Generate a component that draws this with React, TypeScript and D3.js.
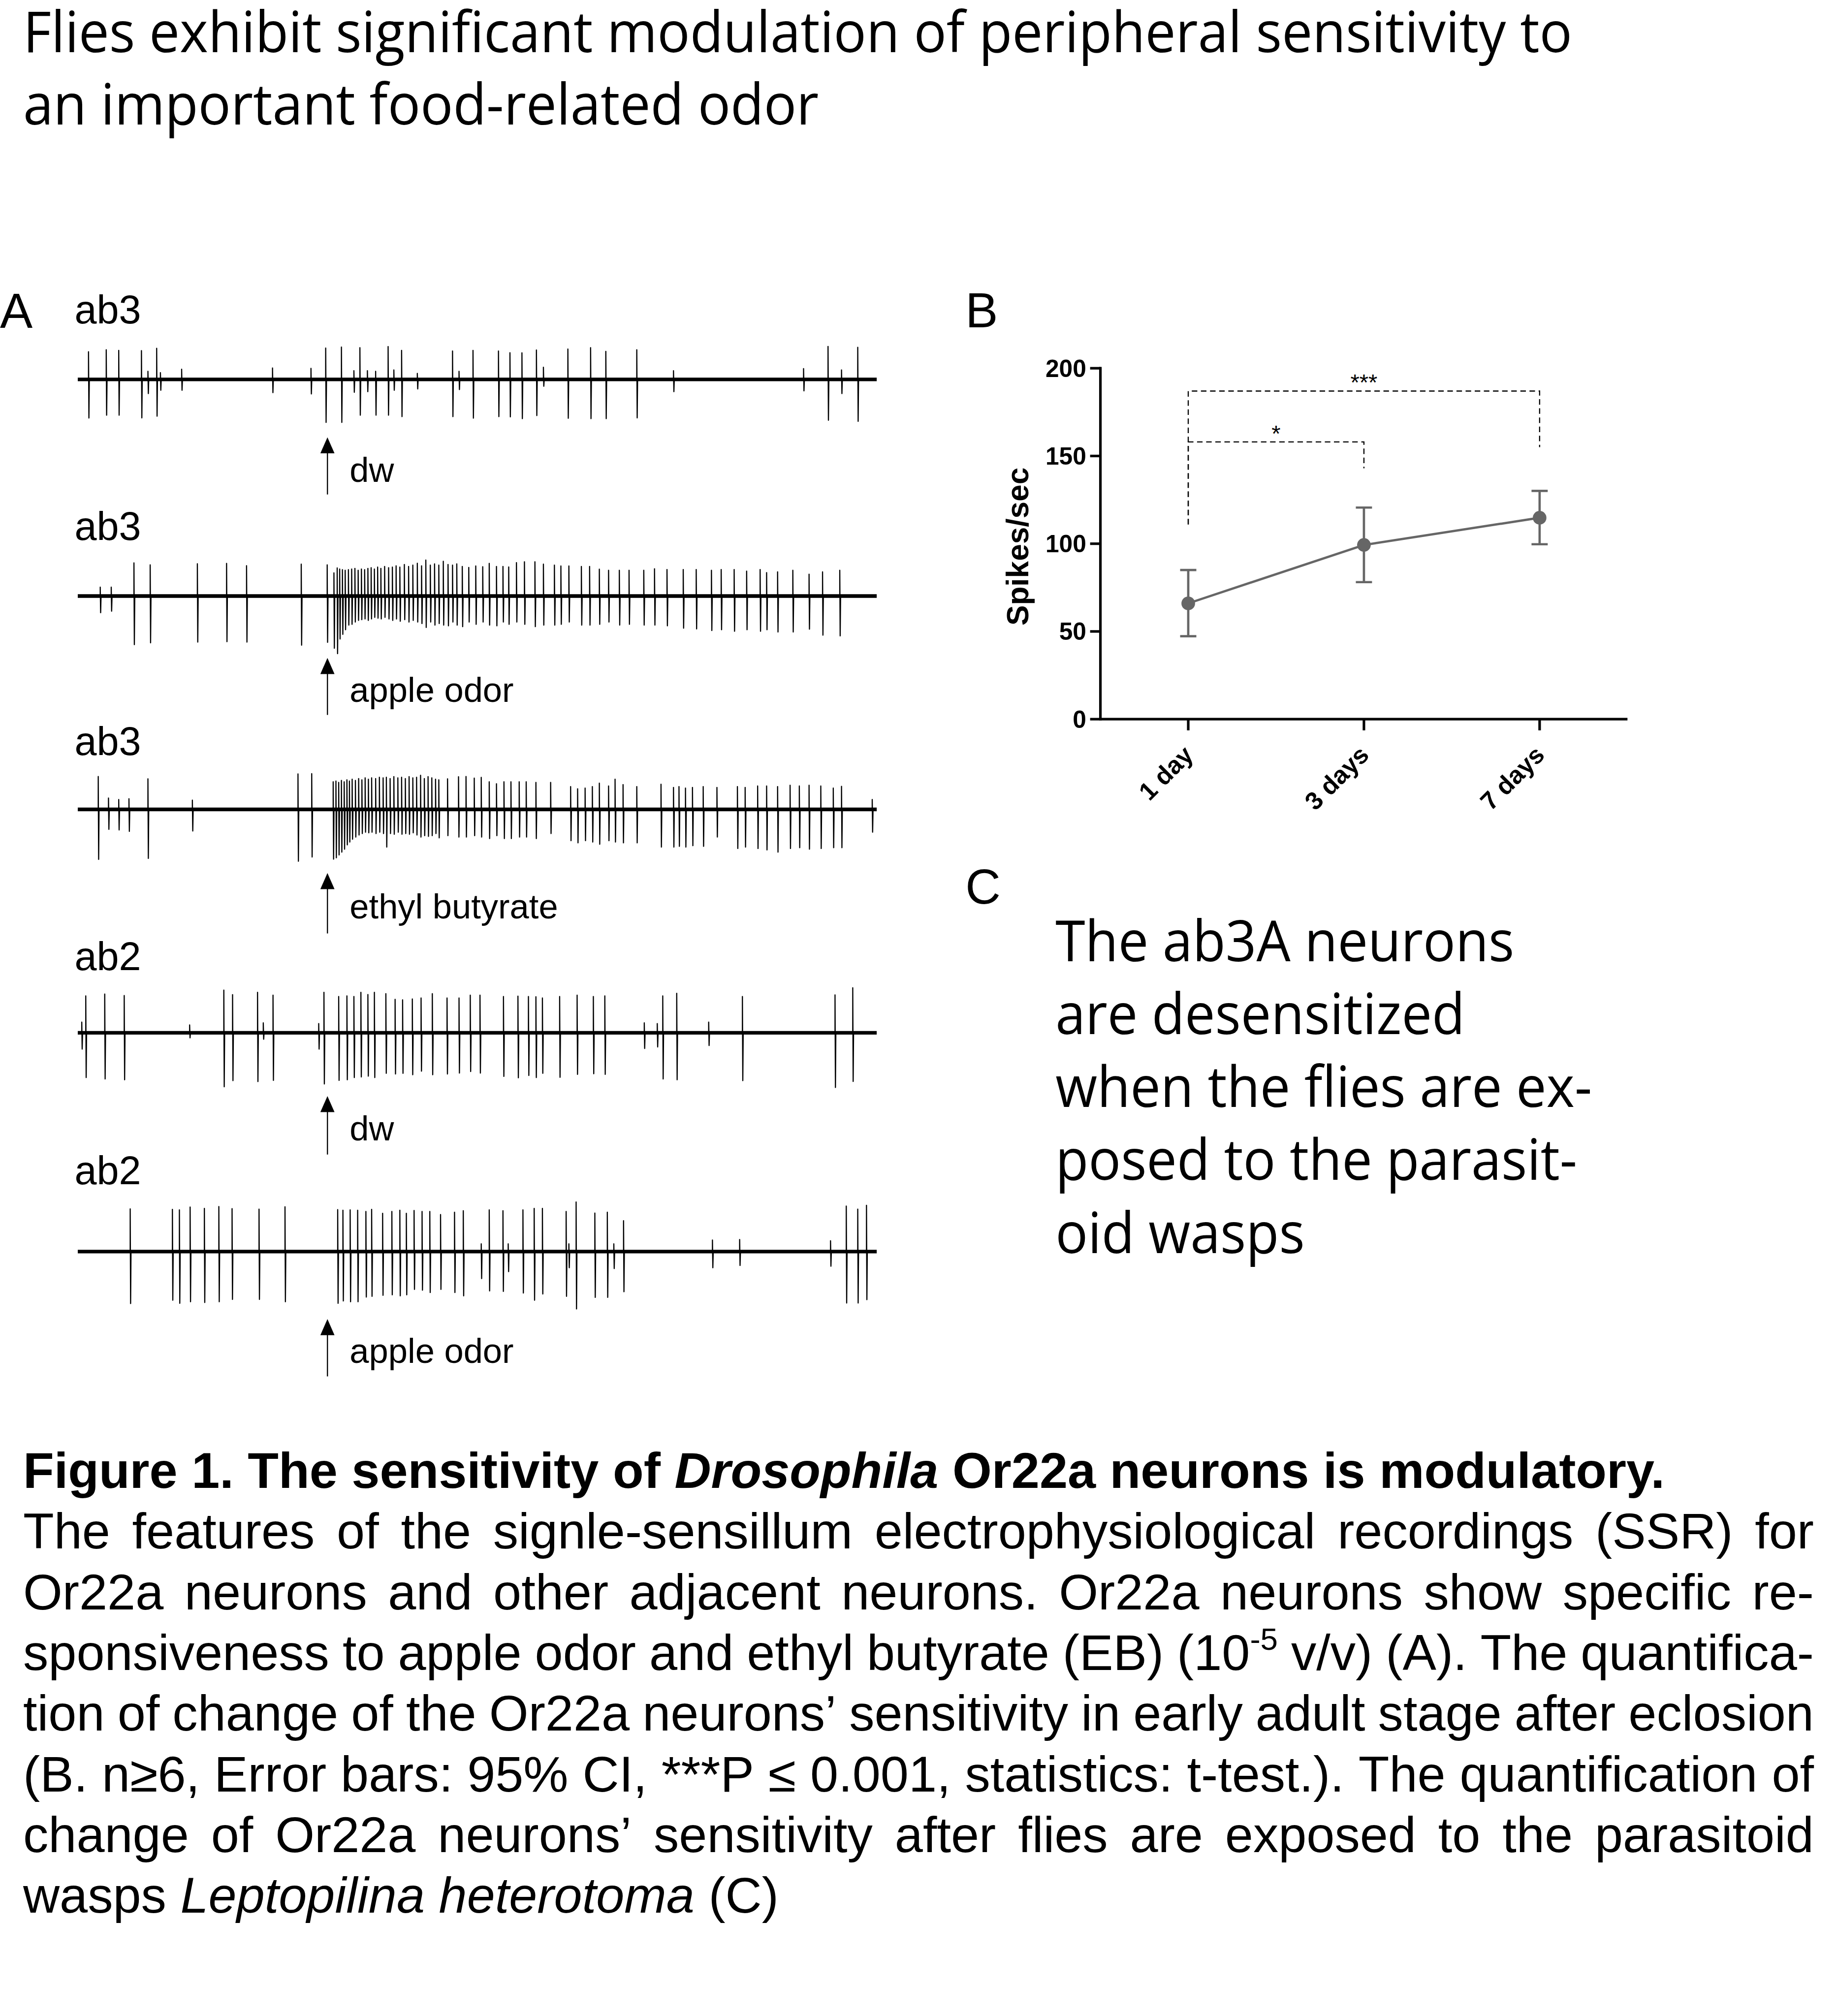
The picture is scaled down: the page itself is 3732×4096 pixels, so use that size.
import React from "react";
import * as d3 from "d3";

type Spike = [number, number, number]; // [time ms, upward µV, downward µV]

// ---------------- Panel A data ----------------
const TRACE_START_MS = 0;
const TRACE_END_MS = 3200;
const STIMULUS_MS = 1000;

const sensillumLabels = ["ab3", "ab3", "ab3", "ab2", "ab2"];
const stimulusLabels = ["dw", "apple odor", "ethyl butyrate", "dw", "apple odor"];

const spikesAb3Dw: Spike[] = [
  [43, 215, 300], [114, 231, 278], [164, 226, 278], [255, 224, 299], [281, 63, 110], [316, 242, 286],
  [331, 53, 84], [416, 79, 84], [780, 89, 103], [934, 86, 113], [993, 244, 334], [1056, 252, 334],
  [1106, 68, 100], [1130, 247, 278], [1160, 68, 95], [1193, 63, 278], [1243, 256, 278], [1266, 74, 84],
  [1297, 226, 289], [1360, 47, 74], [1501, 221, 289], [1527, 63, 79], [1583, 226, 301], [1685, 221, 289],
  [1731, 208, 291], [1779, 207, 305], [1837, 229, 281], [1865, 95, 53], [1963, 236, 302], [2054, 247, 305],
  [2115, 218, 305], [2239, 231, 299], [2386, 68, 95], [2907, 84, 89], [3005, 257, 317], [3059, 74, 110],
  [3124, 250, 326],
];

const spikesAb3Apple: Spike[] = [
  [90, 69, 130], [134, 69, 118], [225, 258, 378], [290, 242, 364], [479, 251, 358], [596, 254, 355],
  [676, 236, 358], [895, 248, 382], [999, 242, 360],
  [1026, 180, 406], [1039, 218, 448], [1049, 210, 334], [1060, 205, 298], [1071, 200, 262], [1084, 205, 226],
  [1097, 210, 220], [1110, 215, 202], [1123, 200, 190], [1136, 210, 184], [1149, 205, 178], [1162, 215, 190],
  [1175, 220, 178], [1188, 210, 166], [1201, 225, 172], [1214, 215, 178], [1229, 230, 166], [1245, 220, 178],
  [1260, 225, 190], [1275, 235, 178], [1290, 225, 196], [1308, 245, 184], [1325, 230, 202], [1342, 240, 190],
  [1360, 255, 202], [1377, 235, 214], [1394, 280, 244], [1412, 240, 202], [1429, 250, 226], [1446, 240, 214],
  [1464, 270, 226], [1483, 245, 232], [1501, 240, 202], [1518, 250, 226],
  [1540, 230, 238], [1566, 222, 202], [1594, 234, 220], [1622, 228, 202], [1648, 254, 226], [1677, 230, 232],
  [1703, 230, 202], [1726, 226, 220], [1757, 260, 202], [1789, 266, 220], [1831, 266, 238], [1865, 248, 226],
  [1909, 240, 226], [1935, 234, 220], [1967, 234, 202], [2017, 230, 226], [2050, 230, 226], [2089, 209, 220],
  [2126, 200, 202], [2169, 200, 226], [2208, 200, 220], [2267, 200, 226], [2310, 212, 226], [2360, 206, 232],
  [2425, 206, 250], [2477, 206, 256], [2538, 200, 268], [2577, 206, 262], [2629, 206, 274], [2679, 194, 262],
  [2733, 206, 274], [2759, 182, 262], [2803, 188, 280], [2864, 200, 280], [2929, 170, 258], [2983, 188, 304],
  [3052, 200, 310],
];

const spikesAb3EB: Spike[] = [
  [82, 256, 389], [123, 88, 155], [164, 77, 160], [205, 83, 171], [281, 238, 381], [459, 72, 168],
  [882, 276, 403], [937, 278, 370],
  [1023, 215, 387], [1034, 220, 376], [1045, 210, 354], [1056, 225, 332], [1067, 215, 309], [1078, 230, 276],
  [1088, 220, 254], [1099, 235, 232], [1112, 225, 215], [1125, 240, 199], [1138, 230, 188], [1151, 245, 177],
  [1164, 235, 182], [1177, 245, 177], [1193, 240, 188], [1208, 250, 177], [1223, 245, 188], [1236, 250, 293],
  [1251, 240, 188], [1266, 255, 193], [1282, 245, 177], [1297, 250, 193], [1312, 240, 188], [1327, 255, 193],
  [1342, 245, 182], [1357, 250, 199], [1373, 265, 215], [1388, 240, 204], [1403, 255, 210], [1418, 245, 204],
  [1433, 235, 188], [1446, 230, 221],
  [1481, 238, 204], [1525, 254, 215], [1555, 256, 215], [1588, 243, 204], [1616, 249, 215], [1648, 215, 227],
  [1677, 199, 204], [1707, 215, 227], [1735, 215, 227], [1768, 215, 215], [1796, 215, 215], [1835, 210, 227],
  [1894, 210, 188], [1974, 177, 243], [2002, 160, 260], [2032, 166, 243], [2061, 177, 254], [2089, 204, 271],
  [2126, 182, 243], [2152, 235, 254], [2184, 193, 260], [2239, 177, 260], [2336, 196, 293], [2386, 171, 293],
  [2408, 177, 287], [2434, 166, 293], [2462, 171, 282], [2505, 177, 287], [2560, 171, 215], [2642, 177, 304],
  [2673, 171, 293], [2723, 182, 304], [2759, 182, 315], [2803, 177, 332], [2853, 188, 304], [2890, 182, 298],
  [2929, 188, 309], [2976, 182, 304], [3026, 166, 298], [3059, 179, 298], [3182, 77, 177],
];

const spikesAb2Dw: Spike[] = [
  [16, 83, 127], [32, 287, 348], [108, 301, 359], [186, 290, 365], [448, 61, 39], [585, 332, 420],
  [620, 297, 372], [720, 315, 379], [743, 77, 50], [782, 293, 370], [965, 72, 127], [986, 315, 398],
  [1045, 282, 370], [1078, 287, 365], [1106, 282, 348], [1134, 315, 343], [1162, 298, 337], [1188, 315, 348],
  [1234, 304, 315], [1271, 260, 320], [1301, 256, 315], [1340, 263, 326], [1375, 271, 298], [1420, 304, 326],
  [1479, 271, 320], [1527, 271, 313], [1572, 293, 301], [1611, 293, 313], [1705, 282, 339], [1763, 285, 350],
  [1805, 282, 332], [1835, 280, 348], [1861, 271, 315], [1930, 282, 346], [2000, 293, 323], [2065, 282, 318],
  [2111, 287, 323], [2269, 77, 122], [2321, 72, 110], [2343, 287, 359], [2399, 307, 365], [2527, 83, 99],
  [2662, 282, 372], [3033, 295, 425], [3104, 350, 378],
];

const spikesAb2Apple: Spike[] = [
  [210, 332, 404], [379, 328, 378], [407, 324, 402], [450, 346, 390], [507, 336, 396], [565, 350, 390],
  [618, 334, 372], [726, 330, 372], [830, 348, 390], [1041, 326, 402], [1062, 322, 384], [1091, 324, 390],
  [1121, 322, 390], [1154, 312, 354], [1177, 328, 348], [1221, 298, 340], [1258, 312, 336], [1290, 322, 344],
  [1316, 298, 336], [1347, 320, 294], [1379, 312, 300], [1410, 312, 318], [1453, 288, 294], [1509, 306, 318],
  [1544, 318, 344], [1616, 60, 210], [1648, 324, 306], [1703, 318, 310], [1724, 60, 156], [1783, 324, 322],
  [1828, 336, 378], [1861, 336, 330], [1956, 312, 348], [1967, 60, 126], [1996, 386, 446], [2071, 300, 356],
  [2121, 306, 356], [2147, 60, 132], [2186, 240, 312], [2542, 90, 126], [2651, 94, 108], [3015, 84, 114],
  [3078, 354, 400], [3124, 330, 400], [3159, 360, 374],
];

const traceSpikes = [spikesAb3Dw, spikesAb3Apple, spikesAb3EB, spikesAb2Dw, spikesAb2Apple];

// ---------------- Panel B data ----------------
const ageGroups = ["1 day", "3 days", "7 days"];
const meanSpikeRate = [66, 99.3, 114.8];
const ciLower = [47.3, 78.1, 99.7];
const ciUpper = [85.0, 120.6, 130.1];
const rateTicks = [0, 50, 100, 150, 200];
const sigPairs = [
  { from: "1 day", to: "3 days", bar: 158, leftEnd: 111, rightEnd: 143, label: "*" },
  { from: "1 day", to: "7 days", bar: 187, leftEnd: 111, rightEnd: 155, label: "***" },
];

// ---------------- Text ----------------
const titleLines = [
  "Flies exhibit significant modulation of peripheral sensitivity to",
  "an important food-related odor",
];
const panelCLines = [
  "The ab3A neurons",
  "are desensitized",
  "when the flies are ex-",
  "posed to the parasit-",
  "oid wasps",
];
const captionLines = [
  "Figure 1. The sensitivity of _Drosophila_ Or22a neurons is modulatory.",
  "The features of the signle-sensillum electrophysiological recordings (SSR) for",
  "Or22a neurons and other adjacent neurons. Or22a neurons show specific re-",
  "sponsiveness to apple odor and ethyl butyrate (EB) (10^-5^ v/v) (A). The quantifica-",
  "tion of change of the Or22a neurons\u2019 sensitivity in early adult stage after eclosion",
  "(B. n\u22656, Error bars: 95% CI, ***P \u2264 0.001, statistics: t-test.). The quantification of",
  "change of Or22a neurons\u2019 sensitivity after flies are exposed to the parasitoid",
  "wasps _Leptopilina_ _heterotoma_ (C)",
];

// ---------------- Layout (reference units: 1429 x 1568) ----------------
const VB_W = 1429;
const VB_H = 1568;
const ROWS = [
  { label: 251.2, base: 295, arrowTop: 340, arrowBottom: 384.5, stim: 374.7 },
  { label: 420, base: 463.5, arrowTop: 511.7, arrowBottom: 556, stim: 546 },
  { label: 587, base: 629.5, arrowTop: 679, arrowBottom: 726, stim: 714.5 },
  { label: 754.6, base: 803.3, arrowTop: 852.5, arrowBottom: 898, stim: 887 },
  { label: 921, base: 973.5, arrowTop: 1026, arrowBottom: 1070.6, stim: 1060 },
];
const ARIAL = '"Liberation Sans", Arial, Helvetica, sans-serif';
const MYRIAD = '"Open Sans", "Noto Sans", sans-serif';

let _ctx: CanvasRenderingContext2D | null = null;
function measure(text: string, style: string, weight: number, family: string, size: number): number {
  if (!_ctx) _ctx = document.createElement("canvas").getContext("2d");
  const ctx = _ctx as CanvasRenderingContext2D;
  ctx.font = `${style} ${weight} 100px ${family}`;
  return (ctx.measureText(text).width * size) / 100;
}

type Seg = { text: string; italic: boolean; sup: boolean };
function parseWord(w: string): Seg[] {
  const segs: Seg[] = [];
  let italic = false, sup = false, buf = "";
  const flush = () => { if (buf) segs.push({ text: buf, italic, sup }); buf = ""; };
  for (const ch of w) {
    if (ch === "_") { flush(); italic = !italic; }
    else if (ch === "^") { flush(); sup = !sup; }
    else buf += ch;
  }
  flush();
  return segs;
}

function Caption() {
  const left = 18, right = 1411, first = 1157.4, step = 47.2;
  const plain1 = captionLines[0].replace(/[_^]/g, "");
  const w1 = measure(plain1, "normal", 700, ARIAL, 100);
  const size = (100 * 1277) / w1;
  const out: JSX.Element[] = [];
  captionLines.forEach((line, li) => {
    const bold = li === 0;
    const justify = li > 0 && li < captionLines.length - 1;
    const weight = bold ? 700 : 400;
    const words = line.split(" ").map(parseWord);
    const widths = words.map((segs) =>
      segs.reduce((s, g) => s + measure(g.text, g.italic ? "italic" : "normal", weight, ARIAL, g.sup ? size * 0.62 : size), 0)
    );
    const total = widths.reduce((a, b) => a + b, 0);
    const space = measure(" ", "normal", weight, ARIAL, size);
    const gap = justify ? (right - left - total) / (words.length - 1) : space;
    let cx = left;
    const y = first + li * step;
    words.forEach((segs, wi) => {
      let cur = 0;
      out.push(
        <text key={`c${li}-${wi}`} x={cx} y={y} fontFamily={ARIAL} fontWeight={weight} fontSize={size} fill="#000">
          {segs.map((g, gi) => {
            const target = g.sup ? -0.4 * size : 0;
            const dy = target - cur;
            cur = target;
            return (
              <tspan key={gi} dy={dy} fontStyle={g.italic ? "italic" : "normal"} fontSize={g.sup ? size * 0.62 : size}>
                {g.text}
              </tspan>
            );
          })}
        </text>
      );
      cx += widths[wi] + gap;
    });
  });
  return <g>{out}</g>;
}

function ScaledLines({ lines, x, baselines, size, targetFirst }: { lines: string[]; x: number; baselines: number[]; size: number; targetFirst: number }) {
  const w = measure(lines[0], "normal", 400, MYRIAD, size);
  const sx = targetFirst / w;
  return (
    <g>
      {lines.map((l, i) => (
        <text key={i} transform={`translate(${x},${baselines[i]}) scale(${sx},1)`} fontFamily={MYRIAD} fontSize={size} fill="#000">
          {l}
        </text>
      ))}
    </g>
  );
}

function PanelA() {
  const x = d3.scaleLinear().domain([TRACE_START_MS, TRACE_END_MS]).range([60.5, 682]);
  const amp = d3.scaleLinear().domain([0, 100]).range([0, 10]);
  const line = d3.line();
  return (
    <g>
      {ROWS.map((r, i) => {
        const b = r.base;
        const d = traceSpikes[i]
          .map(([t, u, dn]) =>
            line([
              [x(t), b],
              [x(t), b - amp(u)],
              [x(t + 1.6), b + amp(dn)],
              [x(t + 3.2), b],
            ])
          )
          .join("");
        const ax = x(STIMULUS_MS);
        return (
          <g key={i}>
            <text x={58} y={r.label} fontFamily={ARIAL} fontSize={31} fill="#000">{sensillumLabels[i]}</text>
            <line x1={x(TRACE_START_MS)} x2={x(TRACE_END_MS)} y1={b} y2={b} stroke="#000" strokeWidth={2.8} />
            <path d={d} fill="none" stroke="#000" strokeWidth={0.9} strokeLinejoin="round" />
            <line x1={ax} x2={ax} y1={r.arrowTop + 8} y2={r.arrowBottom} stroke="#000" strokeWidth={0.9} />
            <path d={`M${ax},${r.arrowTop}L${ax - 5.5},${r.arrowTop + 12.5}L${ax + 5.5},${r.arrowTop + 12.5}Z`} fill="#000" />
            <text x={272} y={r.stim} fontFamily={ARIAL} fontSize={27} fill="#000">{stimulusLabels[i]}</text>
          </g>
        );
      })}
    </g>
  );
}

function PanelB() {
  const y = d3.scaleLinear().domain([0, 200]).range([559.3, 286.3]);
  const xB = d3.scalePoint<string>().domain(ageGroups).range([856, 1266]).padding(0.5);
  const grey = "#666666";
  const meanLine = d3.line<number>().x((_, i) => xB(ageGroups[i]) as number).y((v) => y(v));
  const axisX = 856;
  return (
    <g>
      <line x1={axisX} x2={axisX} y1={y(200)} y2={y(0)} stroke="#000" strokeWidth={2} strokeLinecap="square" />
      {rateTicks.map((t) => (
        <g key={t}>
          <line x1={axisX - 8} x2={axisX} y1={y(t)} y2={y(t)} stroke="#000" strokeWidth={2} />
          <text x={845} y={y(t)} dy="0.35em" textAnchor="end" fontFamily={ARIAL} fontWeight={700} fontSize={19} fill="#000">{t}</text>
        </g>
      ))}
      <line x1={axisX} x2={1266} y1={y(0)} y2={y(0)} stroke="#000" strokeWidth={2} />
      {ageGroups.map((g) => {
        const gx = xB(g) as number;
        return (
          <g key={g}>
            <line x1={gx} x2={gx} y1={y(0)} y2={y(0) + 8.7} stroke="#000" strokeWidth={2} />
            <text transform={`translate(${gx + 5},${y(0) + 29}) rotate(-45)`} textAnchor="end" fontFamily={ARIAL} fontWeight={700} fontSize={19.5} fill="#000">{g}</text>
          </g>
        );
      })}
      <text transform={`translate(800,425) rotate(-90)`} textAnchor="middle" fontFamily={ARIAL} fontWeight={700} fontSize={23.8} fill="#000">Spikes/sec</text>
      {sigPairs.map((p) => {
        const x1 = xB(p.from) as number, x2 = xB(p.to) as number;
        return (
          <g key={p.label}>
            <path d={`M${x1},${y(p.leftEnd)}V${y(p.bar)}H${x2}V${y(p.rightEnd)}`} fill="none" stroke="#000" strokeWidth={0.9} strokeDasharray="4.3 2.8" />
            <text x={(x1 + x2) / 2} y={y(p.bar) - 0.5} textAnchor="middle" fontFamily={ARIAL} fontSize={18} fill="#000">{p.label}</text>
          </g>
        );
      })}
      <path d={meanLine(meanSpikeRate) as string} fill="none" stroke={grey} strokeWidth={1.8} />
      {ageGroups.map((g, i) => {
        const gx = xB(g) as number;
        return (
          <g key={g}>
            <line x1={gx} x2={gx} y1={y(ciLower[i])} y2={y(ciUpper[i])} stroke={grey} strokeWidth={1.8} />
            <line x1={gx - 6.3} x2={gx + 6.3} y1={y(ciLower[i])} y2={y(ciLower[i])} stroke={grey} strokeWidth={1.8} />
            <line x1={gx - 6.3} x2={gx + 6.3} y1={y(ciUpper[i])} y2={y(ciUpper[i])} stroke={grey} strokeWidth={1.8} />
            <circle cx={gx} cy={y(meanSpikeRate[i])} r={5.3} fill={grey} />
          </g>
        );
      })}
    </g>
  );
}

export default function App() {
  return (
    <svg
      width={3732}
      height={4096}
      viewBox={`0 0 ${VB_W} ${VB_H}`}
      style={{ position: "absolute", left: 0, top: 0, display: "block", background: "#fff" }}
    >
      <rect x={0} y={0} width={VB_W} height={VB_H} fill="#fff" />
      <ScaledLines lines={titleLines} x={18} baselines={[40.5, 96.5]} size={44.5} targetFirst={1205} />
      <text x={0} y={255} fontFamily={ARIAL} fontSize={38} fill="#000">A</text>
      <text x={751} y={254.3} fontFamily={ARIAL} fontSize={38} fill="#000">B</text>
      <text x={751} y={703} fontFamily={ARIAL} fontSize={38} fill="#000">C</text>
      <PanelA />
      <PanelB />
      <ScaledLines lines={panelCLines} x={821} baselines={[747.7, 804.4, 861.1, 917.8, 974.5]} size={44} targetFirst={357} />
      <Caption />
    </svg>
  );
}
